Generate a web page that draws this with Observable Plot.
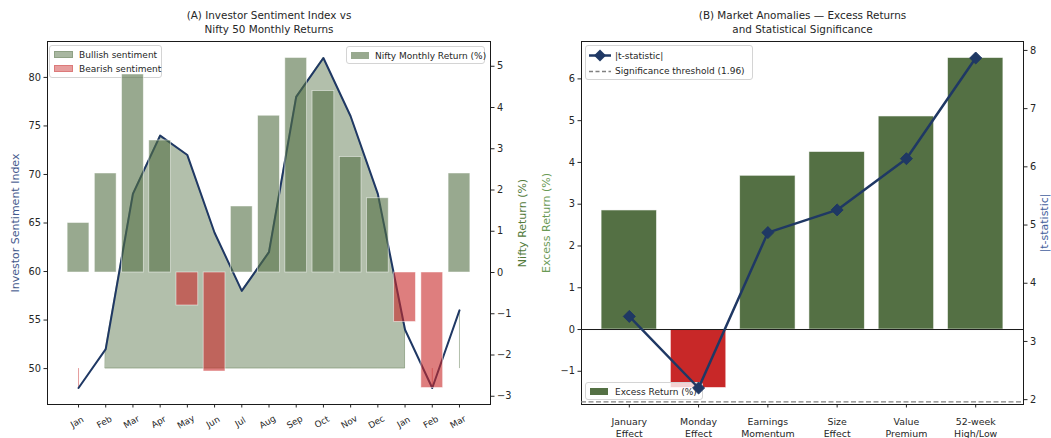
<!DOCTYPE html>
<html><head><meta charset="utf-8">
<script src="https://cdn.jsdelivr.net/npm/d3@7"></script>
<script src="https://cdn.jsdelivr.net/npm/@observablehq/plot@0.6"></script>
<style>
body{margin:0;background:#fff;font-family:"DejaVu Sans",sans-serif;}
#wrap{position:relative;width:1051px;height:438px;overflow:hidden;background:#fff;}
#wrap svg{position:absolute;left:0;top:0;}
.lg{position:absolute;background:rgba(255,255,255,0.8);border:1px solid #d4d4d4;border-radius:3px;font-size:9px;color:#262626;box-sizing:border-box;}
.it{position:absolute;white-space:nowrap;line-height:10px;}
.sw{position:absolute;}
</style></head>
<body><div id="wrap"></div>
<script>
// ---------- data ----------
const months = ["Jan","Feb","Mar","Apr","May","Jun","Jul","Aug","Sep","Oct","Nov","Dec","Jan","Feb","Mar"];
const sentiment = [48,52,68,74,72,64,58,62,78,82,76,68,54,48,56];
const niftyReturn = [1.2,2.4,4.8,3.2,-0.8,-2.4,1.6,3.8,5.2,4.4,2.8,1.8,-1.2,-2.8,2.4];
const sentimentBase = 50;
const sentimentTicks = [50,55,60,65,70,75,80];
const returnTicks = [-3,-2,-1,0,1,2,3,4,5];

const anomalies = ["January\nEffect","Monday\nEffect","Earnings\nMomentum","Size\nEffect","Value\nPremium","52-week\nHigh/Low"];
const excessReturn = [2.85,-1.4,3.68,4.25,5.1,6.5];
const tStat = [3.43,2.2,4.87,5.26,6.14,7.87];
const tThreshold = 1.96;
const excessTicks = [-1,0,1,2,3,4,5,6];
const tTicks = [2,3,4,5,6,7,8];

const titleA = "(A) Investor Sentiment Index vs\nNifty 50 Monthly Returns";
const titleB = "(B) Market Anomalies \u2014 Excess Returns\nand Statistical Significance";

// ---------- style ----------
const navy = "#1f3864", green = "#547044", red = "#c82828";
const ink = "#262626";
const W = 1051, H = 438, TOP = 41, BOTTOM = 34;
const TICK_FS = 9.8;
const style = {background:"transparent", fontFamily:"DejaVu Sans", fontSize:"9.8px", color:ink, overflow:"visible"};

const pad = v => { const lo = d3.min(v), hi = d3.max(v), m = (hi - lo) * 0.05; return [lo - m, hi + m]; };
const lin = (a, b) => v => b[0] + (v - a[0]) * (b[1] - b[0]) / (a[1] - a[0]);
const fmtInt = v => d3.format("d")(Math.round(v));

const wrap = document.getElementById("wrap");

// ================= Panel A =================
const rowsA = months.map((m, i) => ({i, m, s: sentiment[i], r: niftyReturn[i]}));
const xDomA = pad([-0.4, months.length - 1 + 0.4]);
const leftDomA = pad([...sentiment, sentimentBase]);
const rightDomA = pad([...niftyReturn, 0]);
const rToS = lin(rightDomA, leftDomA), sToR = lin(leftDomA, rightDomA);
const mA = {width: W, height: H, marginLeft: 47, marginRight: W - 490, marginTop: TOP, marginBottom: BOTTOM};

function runs(pred) {
  const out = []; let cur = [];
  rowsA.forEach(d => { if (pred(d)) cur.push(d); else { if (cur.length) out.push(cur); cur = []; } });
  if (cur.length) out.push(cur);
  return out;
}
const fillMarks = [];
[[d => d.s >= sentimentBase, green], [d => d.s < sentimentBase, red]].forEach(([p, c]) => {
  runs(p).forEach(run => {
    if (run.length > 1) fillMarks.push(Plot.areaY(run, {x: "i", y1: sentimentBase, y2: "s", fill: c, fillOpacity: 0.45, stroke: c, strokeOpacity: 0.45, strokeWidth: 1}));
    else fillMarks.push(Plot.ruleX(run, {x: "i", y1: sentimentBase, y2: "s", stroke: c, strokeOpacity: 0.45, strokeWidth: 1}));
  });
});

const plotA1 = Plot.plot({
  ...mA, style,
  x: {domain: xDomA}, y: {domain: leftDomA},
  marks: [
    ...fillMarks,
    Plot.line(rowsA, {x: "i", y: "s", stroke: navy, strokeWidth: 2}),
    Plot.axisY(sentimentTicks, {anchor: "left", tickSize: 3.5, tickPadding: 3, fontSize: TICK_FS, label: null}),
    Plot.axisY(returnTicks.map(rToS), {anchor: "right", tickSize: 3.5, tickPadding: 3, fontSize: TICK_FS, label: null, tickFormat: v => fmtInt(sToR(v))}),
    Plot.axisX(d3.range(months.length), {anchor: "bottom", tickSize: 3.5, tickFormat: () => "", label: null}),
    Plot.text(rowsA, {x: "i", text: "m", frameAnchor: "bottom", dy: 20, rotate: -30, fontSize: 8.8, fill: ink}),
    Plot.text(["Investor Sentiment Index"], {frameAnchor: "left", textAnchor: "middle", dx: -32, rotate: -90, fontSize: 11, fill: "#44598c"}),
    Plot.text(["Nifty Return (%)"], {frameAnchor: "right", textAnchor: "middle", dx: 32, rotate: -90, fontSize: 11, fill: "#527a3a"}),
    Plot.text([titleA], {frameAnchor: "top", dy: -9, lineAnchor: "bottom", lineHeight: 1.28, fontSize: 10.4, fill: ink}),
    Plot.frame({stroke: "#1a1a1a", strokeWidth: 1})
  ]
});
wrap.appendChild(plotA1);

const lgA1 = document.createElement("div");
lgA1.className = "lg";
lgA1.style.cssText = "left:49px;top:45px;width:113px;height:33px;";
lgA1.innerHTML =
  `<div class="sw" style="left:4px;top:5px;width:19px;height:7px;background:rgba(84,112,68,0.5);border:1px solid rgba(84,112,68,0.3);box-sizing:border-box"></div>
   <div class="it" style="left:29px;top:4px">Bullish sentiment</div>
   <div class="sw" style="left:4px;top:19px;width:19px;height:7px;background:rgba(200,40,40,0.45);border:1px solid rgba(200,40,40,0.3);box-sizing:border-box"></div>
   <div class="it" style="left:29px;top:18px">Bearish sentiment</div>`;
wrap.appendChild(lgA1);

const plotA2 = Plot.plot({
  ...mA, style,
  x: {domain: xDomA, axis: null}, y: {domain: leftDomA, axis: null},
  marks: [
    Plot.rect(rowsA.filter(d => d.r >= 0), {x1: d => d.i - 0.4, x2: d => d.i + 0.4, y1: rToS(0), y2: d => rToS(d.r), fill: green, fillOpacity: 0.6, stroke: "white", strokeOpacity: 0.6, strokeWidth: 0.8}),
    Plot.rect(rowsA.filter(d => d.r < 0), {x1: d => d.i - 0.4, x2: d => d.i + 0.4, y1: rToS(0), y2: d => rToS(d.r), fill: red, fillOpacity: 0.6, stroke: "white", strokeOpacity: 0.6, strokeWidth: 0.8})
  ]
});
wrap.appendChild(plotA2);

const lgA2 = document.createElement("div");
lgA2.className = "lg";
lgA2.style.cssText = "left:346px;top:46px;width:139px;height:18px;";
lgA2.innerHTML =
  `<div class="sw" style="left:4px;top:5px;width:18px;height:7px;background:rgba(84,112,68,0.6)"></div>
   <div class="it" style="left:28px;top:3.5px">Nifty Monthly Return (%)</div>`;
wrap.appendChild(lgA2);

// ================= Panel B =================
const rowsB = anomalies.map((a, i) => ({i, a, e: excessReturn[i], t: tStat[i]}));
const xDomB = pad([-0.4, anomalies.length - 1 + 0.4]);
const eDom = pad([...excessReturn, 0]);
const tDom = pad(tStat);
const tToE = lin(tDom, eDom), eToT = lin(eDom, tDom);
const mB = {width: W, height: H, marginLeft: 581, marginRight: W - 1023, marginTop: TOP, marginBottom: BOTTOM};

const plotB1 = Plot.plot({
  ...mB, style,
  x: {domain: xDomB}, y: {domain: eDom},
  marks: [
    Plot.rect(rowsB.filter(d => d.e >= 0), {x1: d => d.i - 0.4, x2: d => d.i + 0.4, y1: 0, y2: "e", fill: green, stroke: "white", strokeOpacity: 0.7, strokeWidth: 0.8}),
    Plot.rect(rowsB.filter(d => d.e < 0), {x1: d => d.i - 0.4, x2: d => d.i + 0.4, y1: 0, y2: "e", fill: red, stroke: "white", strokeOpacity: 0.7, strokeWidth: 0.8}),
    Plot.ruleY([0], {stroke: "#1a1a1a", strokeWidth: 1}),
    Plot.axisY(excessTicks, {anchor: "left", tickSize: 3.5, tickPadding: 3, fontSize: TICK_FS, label: null}),
    Plot.axisY(tTicks.map(tToE), {anchor: "right", tickSize: 3.5, tickPadding: 3, fontSize: TICK_FS, label: null, tickFormat: v => fmtInt(eToT(v))}),
    Plot.axisX(d3.range(anomalies.length), {anchor: "bottom", tickSize: 3.5, tickFormat: () => "", label: null}),
    Plot.text(rowsB, {x: "i", text: "a", frameAnchor: "bottom", dy: 11.5, lineAnchor: "top", lineHeight: 1.3, fontSize: 9.4, fill: ink}),
    Plot.text(["Excess Return (%)"], {frameAnchor: "left", textAnchor: "middle", dx: -35, rotate: -90, fontSize: 11, fill: "#6a9a55"}),
    Plot.text(["|t-statistic|"], {frameAnchor: "right", textAnchor: "middle", dx: 21, rotate: -90, fontSize: 11, fill: "#44609c"}),
    Plot.text([titleB], {frameAnchor: "top", dy: -9, lineAnchor: "bottom", lineHeight: 1.28, fontSize: 10.4, fill: ink}),
    Plot.frame({stroke: "#1a1a1a", strokeWidth: 1})
  ]
});
wrap.appendChild(plotB1);

const lgB2 = document.createElement("div");
lgB2.className = "lg";
lgB2.style.cssText = "left:585px;top:382px;width:118px;height:18px;";
lgB2.innerHTML =
  `<div class="sw" style="left:4px;top:5px;width:18px;height:7px;background:${green}"></div>
   <div class="it" style="left:29px;top:3.5px">Excess Return (%)</div>`;
wrap.appendChild(lgB2);

const plotB2 = Plot.plot({
  ...mB, style,
  x: {domain: xDomB, axis: null}, y: {domain: eDom, axis: null},
  marks: [
    Plot.ruleY([tToE(tThreshold)], {stroke: "#808080", strokeWidth: 1.3, strokeDasharray: "5,2.5"}),
    Plot.line(rowsB, {x: "i", y: d => tToE(d.t), stroke: navy, strokeWidth: 2.5}),
    Plot.dot(rowsB, {x: "i", y: d => tToE(d.t), symbol: "diamond2", r: 5.4, fill: navy, stroke: navy, strokeWidth: 1})
  ]
});
wrap.appendChild(plotB2);

const lgB1 = document.createElement("div");
lgB1.className = "lg";
lgB1.style.cssText = "left:585px;top:45px;width:168px;height:35px;";
lgB1.innerHTML =
  `<svg class="sw" style="left:3px;top:3px" width="22" height="13"><line x1="0" y1="6.5" x2="22" y2="6.5" stroke="${navy}" stroke-width="2.5"/><path d="M11,0.5L17,6.5L11,12.5L5,6.5Z" fill="${navy}"/></svg>
   <div class="it" style="left:29px;top:4.5px">|t-statistic|</div>
   <svg class="sw" style="left:3px;top:19px" width="22" height="13"><line x1="0" y1="6.5" x2="22" y2="6.5" stroke="#808080" stroke-width="1.3" stroke-dasharray="4,2.5"/></svg>
   <div class="it" style="left:29px;top:20px">Significance threshold (1.96)</div>`;
wrap.appendChild(lgB1);
</script></body></html>
